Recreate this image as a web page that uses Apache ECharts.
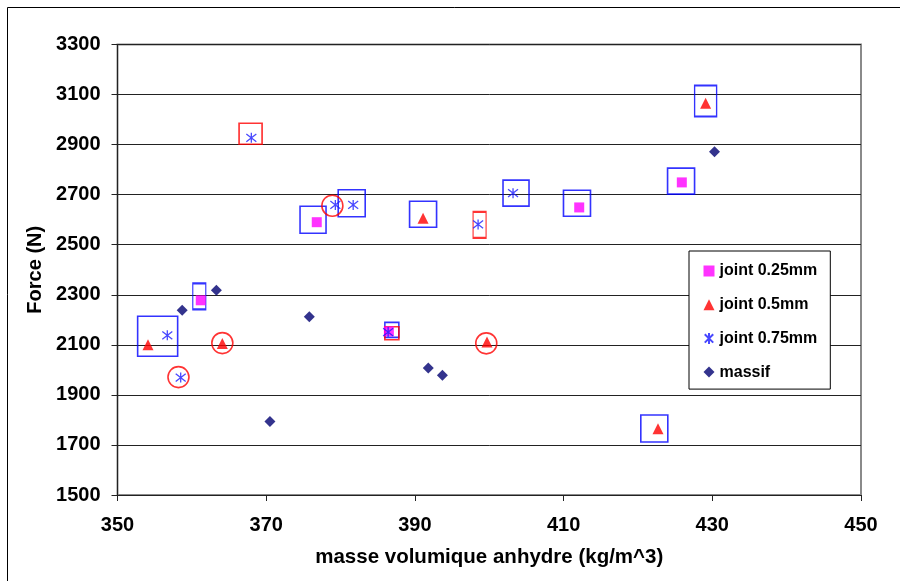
<!DOCTYPE html>
<html>
<head>
<meta charset="utf-8">
<script src="https://cdn.jsdelivr.net/npm/echarts@6/dist/echarts.min.js"></script>
<style>
  html, body { margin: 0; padding: 0; background: #fff; }
  #chart { width: 900px; height: 581px; }
</style>
</head>
<body>
<div id="chart"></div>
<script>
// Force vs. dry density for jointed and solid specimens
const joint025 = [[361.2, 2278], [376.8, 2590], [386.5, 2154], [412.1, 2649], [425.9, 2749]];
const joint05  = [[354.1, 2100], [364.1, 2105], [391.1, 2606], [399.7, 2111], [429.1, 3065], [422.7, 1765]];
const joint075 = [[356.7, 2138], [358.5, 1969], [368.0, 2927], [379.3, 2659], [381.7, 2659], [398.5, 2581], [403.2, 2706], [386.4, 2151]];
const massif   = [[358.7, 2238], [363.3, 2318], [375.8, 2212], [370.5, 1794], [391.8, 2007], [393.7, 1978], [430.3, 2871]];

// Highlighted specimens (outlined boxes and circles around points)
const blueBoxes  = [[355.4, 2134], [361.0, 2294], [376.3, 2600], [381.5, 2666], [391.1, 2622], [403.6, 2706], [411.8, 2666], [425.8, 2754], [429.1, 3074], [422.2, 1766], [386.9, 2160]];
const redBoxes   = [[367.9, 2943], [398.7, 2579], [386.9, 2146]];
const redCircles = [[358.2, 1971], [364.1, 2107], [378.9, 2656], [399.6, 2106]];

const seriesNames = ['joint 0.25mm', 'joint 0.5mm', 'joint 0.75mm', 'massif'];
const xTitle = 'masse volumique anhydre (kg/m^3)';
const yTitle = 'Force (N)';

// Outline sizes (px) for each highlight, same order as the centre lists
const blueBoxSizes = [[40, 40], [13, 26], [26, 27], [27, 27], [27, 26], [26, 26], [27, 26], [27, 26], [22, 31], [27, 27], [14, 15]];
const redBoxSizes  = [[23, 21], [13, 26], [14, 13]];

const FONT = "'Liberation Sans', Arial, sans-serif";
const ASTERISK = 'path://M0,0L10,10M0,10L10,0M5,-1.5L5,11.5';

function outline(name, points, symbol, sizes, color) {
  return {
    name: name,
    type: 'scatter',
    silent: true,
    z: 3,
    symbol: symbol,
    data: points.map((p, i) => ({
      value: p,
      symbolSize: Array.isArray(sizes) ? sizes[i] : sizes
    })),
    itemStyle: { color: 'rgba(0,0,0,0)', borderColor: color, borderWidth: 1.6 }
  };
}

const chart = echarts.init(document.getElementById('chart'), null, { renderer: 'canvas' });
chart.setOption({
  animation: false,
  backgroundColor: '#fff',
  textStyle: { fontFamily: FONT },
  graphic: [{
    type: 'rect',
    shape: { x: 7.5, y: 7.5, width: 1000, height: 1000 },
    style: { fill: 'none', stroke: '#000', lineWidth: 1 },
    silent: true
  }],
  grid: {
    left: 117.5, right: 39, top: 44.5, bottom: 86,
    show: true, borderColor: '#8a8a8a', borderWidth: 2, backgroundColor: '#fff'
  },
  legend: {
    data: seriesNames,
    orient: 'vertical',
    left: 689, top: 251,
    padding: [12, 13, 9, 14.5],
    itemGap: 17.7,
    itemWidth: 11, itemHeight: 11,
    backgroundColor: '#fff',
    borderColor: '#000', borderWidth: 1,
    textStyle: { fontFamily: FONT, fontWeight: 'bold', fontSize: 16, color: '#000' }
  },
  xAxis: {
    type: 'value', min: 350, max: 450, interval: 20,
    name: xTitle, nameLocation: 'middle', nameGap: 52,
    nameTextStyle: { fontFamily: FONT, fontWeight: 'bold', fontSize: 20.5, color: '#000' },
    axisLine: { show: true, onZero: false, lineStyle: { color: '#222', width: 1 } },
    axisTick: { show: true, inside: false, length: 6, lineStyle: { color: '#222' } },
    axisLabel: { margin: 20, fontFamily: FONT, fontWeight: 'bold', fontSize: 20, color: '#000' },
    splitLine: { show: false }
  },
  yAxis: {
    type: 'value', min: 1500, max: 3300, interval: 200,
    name: yTitle, nameLocation: 'middle', nameGap: 65, nameRotate: 90,
    nameTextStyle: { fontFamily: FONT, fontWeight: 'bold', fontSize: 20, color: '#000' },
    axisLine: { show: true, onZero: false, lineStyle: { color: '#222', width: 1 } },
    axisTick: { show: true, inside: false, length: 6, lineStyle: { color: '#222' } },
    axisLabel: {
      margin: 17, fontFamily: FONT, fontWeight: 'bold', fontSize: 20, color: '#000',
      formatter: v => String(v)
    },
    splitLine: { show: true, lineStyle: { color: '#222', width: 1 } }
  },
  series: [
    {
      name: seriesNames[0], type: 'scatter', z: 4, symbol: 'rect', symbolSize: 10,
      itemStyle: { color: '#FF00FF' }, data: joint025
    },
    {
      name: seriesNames[1], type: 'scatter', z: 4, symbol: 'triangle', symbolSize: 11,
      itemStyle: { color: '#FF0000' }, data: joint05
    },
    {
      name: seriesNames[2], type: 'scatter', z: 4, symbol: ASTERISK, symbolSize: 10,
      itemStyle: { color: 'rgba(0,0,0,0)', borderColor: '#1a1aff', borderWidth: 1.3 }, data: joint075
    },
    {
      name: seriesNames[3], type: 'scatter', z: 4, symbol: 'diamond', symbolSize: 11,
      itemStyle: { color: '#000070' }, data: massif
    },
    outline('blue boxes', blueBoxes, 'rect', blueBoxSizes, '#0000FF'),
    outline('red boxes', redBoxes, 'rect', redBoxSizes, '#FF0000'),
    outline('red circles', redCircles, 'circle', 21, '#FF0000')
  ]
});
</script>
</body>
</html>
